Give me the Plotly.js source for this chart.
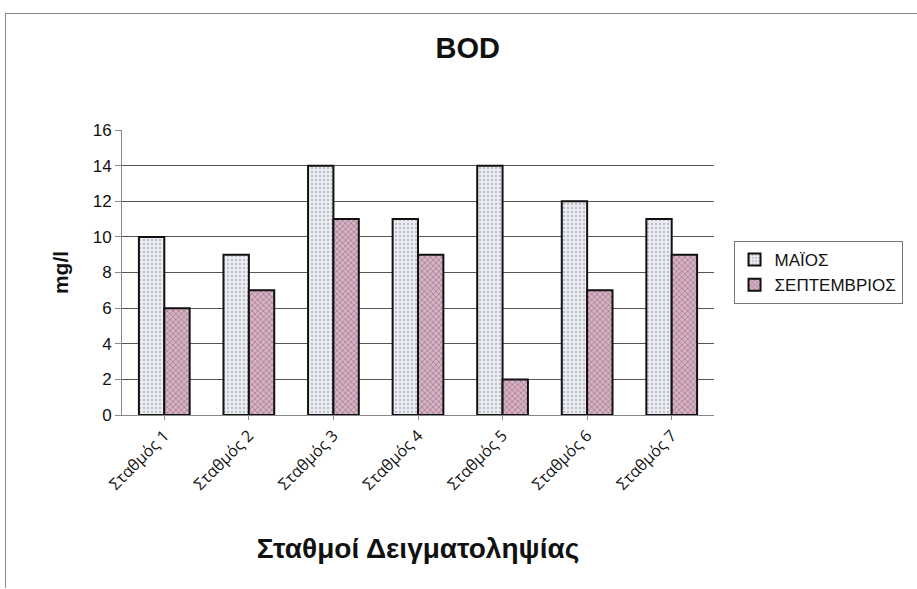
<!DOCTYPE html>
<html><head><meta charset="utf-8">
<script src="https://cdn.plot.ly/plotly-3.0.1.min.js"></script>
<style>body{margin:0;background:#fff}#c{width:917px;height:589px}
#frame{position:absolute;left:5px;top:13px;width:911px;height:574px;border:1px solid #888;border-right:none;border-bottom:none;pointer-events:none}</style>
</head><body><div id="c"></div><div id="frame"></div>
<script>
const stations = ["Σταθμός 1","Σταθμός 2","Σταθμός 3","Σταθμός 4","Σταθμός 5","Σταθμός 6","Σταθμός 7"];
const may = [10, 9, 14, 11, 14, 12, 11];
const september = [6, 7, 11, 9, 2, 7, 9];
const seriesNames = ["ΜΑΪΟΣ", "ΣΕΠΤΕΜΒΡΙΟΣ"];
const gridValues = [2, 4, 6, 8, 10, 12, 14];

const traces = [
  {type:'bar', x:stations, y:may, name:seriesNames[0],
   marker:{color:'#eceef3', line:{color:'#111', width:2},
           pattern:{shape:'.', fgcolor:'#b8bcc8', bgcolor:'#eceef3', size:4, solidity:0.25}}},
  {type:'bar', x:stations, y:september, name:seriesNames[1],
   marker:{color:'#caa3b6', line:{color:'#111', width:2},
           pattern:{shape:'x', fgcolor:'#9c6f86', bgcolor:'#d6b3c4', size:4, solidity:0.3}}},
  {type:'scatter', x:[stations[0]], y:[0], yaxis:'y2', showlegend:false, hoverinfo:'skip',
   mode:'markers', marker:{opacity:0}}
];
const layout = {
  width:917, height:589, paper_bgcolor:'#fff', plot_bgcolor:'rgba(0,0,0,0)',
  margin:{l:122, r:203, t:130, b:174},
  font:{family:'Liberation Sans, Arial, sans-serif', color:'#111'},
  title:{text:'<b>BOD</b>', x:0.51, xanchor:'center', y:0.918, yanchor:'middle', font:{size:29, color:'#111'}},
  barmode:'group', bargap:0.4, bargroupgap:0,
  xaxis:{tickangle:-45, tickfont:{size:16, family:'Open Sans, sans-serif'}, showline:true, linecolor:'#888',
         ticks:'outside', ticklen:4, tickcolor:'#888', showgrid:false,
         title:{text:'<b>Σταθμοί Δειγματοληψίας</b>', font:{size:28}, standoff:44}},
  yaxis:{range:[0,16], dtick:2, tickfont:{size:17}, showline:true, linecolor:'#888',
         ticks:'outside', ticklen:6, tickcolor:'#888', showgrid:false, zeroline:false,
         title:{text:'<b>mg/l</b>', font:{size:21}, standoff:18}},
  yaxis2:{range:[0,16], overlaying:'y', tickvals:gridValues, showticklabels:false, ticks:'',
          showgrid:true, gridcolor:'#555', gridwidth:1, zeroline:false, layer:'below traces'},
  legend:{x:1.033, y:0.5, xanchor:'left', yanchor:'middle', bordercolor:'#777', borderwidth:1,
          font:{size:17}, bgcolor:'#fff', tracegroupgap:18, itemwidth:30}
};
Plotly.newPlot('c', traces, layout, {displayModeBar:false});
</script></body></html>
